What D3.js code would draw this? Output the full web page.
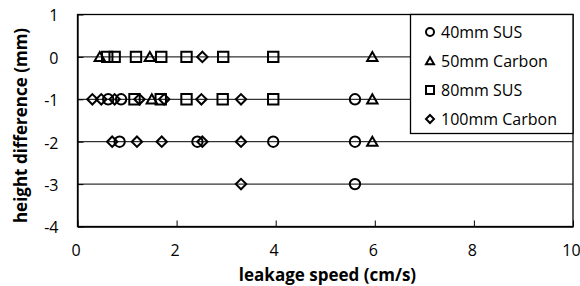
<!DOCTYPE html>
<html>
<head>
<meta charset="utf-8">
<script src="https://cdn.jsdelivr.net/npm/d3@7"></script>
<style>
  body { margin: 0; background: #fff; }
  text { font-family: "Open Sans", "DejaVu Sans", sans-serif; fill: #000; }
</style>
</head>
<body>
<svg width="580" height="286"></svg>
<script>
"use strict";

// series: leakage speed (cm/s) vs height difference (mm)
const seriesNames = ["40mm SUS", "50mm Carbon", "80mm SUS", "100mm Carbon"];
const seriesShapes = ["circle", "triangle", "square", "diamond"];

const sus40 = [
    {x: 0.62, y: -1}, {x: 0.88, y: -1}, {x: 5.6, y: -1},
    {x: 0.85, y: -2}, {x: 2.42, y: -2}, {x: 3.95, y: -2}, {x: 5.6, y: -2},
    {x: 5.6, y: -3}
];
const carbon50 = [
    {x: 0.45, y: 0}, {x: 1.46, y: 0}, {x: 5.95, y: 0},
    {x: 1.5, y: -1}, {x: 5.95, y: -1},
    {x: 5.95, y: -2}
];
const sus80 = [
    {x: 0.6, y: 0}, {x: 0.75, y: 0}, {x: 1.18, y: 0}, {x: 1.69, y: 0}, {x: 2.2, y: 0}, {x: 2.94, y: 0}, {x: 3.95, y: 0},
    {x: 1.15, y: -1}, {x: 1.68, y: -1}, {x: 2.2, y: -1}, {x: 2.93, y: -1}, {x: 3.95, y: -1}
];
const carbon100 = [
    {x: 2.52, y: 0},
    {x: 0.3, y: -1}, {x: 0.48, y: -1}, {x: 0.75, y: -1}, {x: 1.25, y: -1}, {x: 1.75, y: -1}, {x: 2.5, y: -1}, {x: 3.3, y: -1},
    {x: 0.7, y: -2}, {x: 1.2, y: -2}, {x: 1.7, y: -2}, {x: 2.52, y: -2}, {x: 3.3, y: -2},
    {x: 3.3, y: -3}
];
const allSeries = [sus40, carbon50, sus80, carbon100];

const xTicks = [0, 2, 4, 6, 8, 10];
const yTicks = [1, 0, -1, -2, -3, -4];

window.addEventListener("load", drawChart);

function markerPath(shape, r) {
    // r is roughly half the marker width
    const p = d3.path();
    if (shape === "circle") {
        p.arc(0, 0, r, 0, 2 * Math.PI);
    } else if (shape === "square") {
        p.rect(-r, -r, 2 * r, 2 * r);
    } else if (shape === "diamond") {
        p.moveTo(0, -r); p.lineTo(r, 0); p.lineTo(0, r); p.lineTo(-r, 0); p.closePath();
    } else {
        p.moveTo(0, -r * 0.95); p.lineTo(r, r * 0.8); p.lineTo(-r, r * 0.8); p.closePath();
    }
    return p.toString();
}

function drawChart() {
    const svg = d3.select("svg");
    const Padding = {TOP: 14.5, LEFT: 77.5, RIGHT: 7, BOTTOM: 59.5};
    const width = +svg.attr("width"), height = +svg.attr("height");

    const x = d3.scaleLinear().domain([0, 10]).range([Padding.LEFT, width - Padding.RIGHT]);
    const y = d3.scaleLinear().domain([-4, 1]).range([height - Padding.BOTTOM, Padding.TOP]);

    // horizontal gridlines
    svg.append("g")
        .selectAll("line")
        .data(yTicks.filter(d => d !== 1 && d !== -4))
        .join("line")
        .attr("x1", x(0)).attr("x2", x(10))
        .attr("y1", d => y(d)).attr("y2", d => y(d))
        .attr("stroke", "#000").attr("stroke-width", 1);

    // axes with inward ticks, plain hyphen for negatives
    const xAxis = svg.append("g")
        .attr("transform", `translate(0, ${y(-4)})`)
        .call(d3.axisBottom(x).tickValues(xTicks).tickFormat(d => String(d))
            .tickSizeInner(-6).tickSizeOuter(0).tickPadding(18));
    const yAxis = svg.append("g")
        .attr("transform", `translate(${x(0)}, 0)`)
        .call(d3.axisLeft(y).tickValues(yTicks).tickFormat(d => String(d))
            .tickSizeInner(-6).tickSizeOuter(0).tickPadding(19));
    [xAxis, yAxis].forEach(a => {
        a.select(".domain").attr("stroke", "#000").attr("stroke-width", 1.3);
        a.selectAll(".tick line").attr("stroke", "#000");
        a.selectAll("text").attr("font-size", 16).attr("font-family", null);
    });
    xAxis.selectAll("text").attr("dx", -2);
    yAxis.selectAll("text").attr("dy", "0.4em");

    // plot frame
    svg.append("rect")
        .attr("x", x(0)).attr("y", y(1))
        .attr("width", x(10) - x(0)).attr("height", y(-4) - y(1))
        .attr("fill", "none").attr("stroke", "#000").attr("stroke-width", 1.3);

    // markers
    allSeries.forEach((data, i) => {
        svg.append("g")
            .selectAll("path")
            .data(data)
            .join("path")
            .attr("transform", d => `translate(${x(d.x)}, ${y(d.y)})`)
            .attr("d", markerPath(seriesShapes[i], 5.2))
            .attr("fill", "none")
            .attr("stroke", "#000")
            .attr("stroke-width", 2);
    });

    // legend
    const legend = svg.append("g");
    legend.append("rect")
        .attr("x", 410.5).attr("y", y(1))
        .attr("width", x(10) - 410.5).attr("height", 133.5 - y(1))
        .attr("fill", "#fff").attr("stroke", "#000").attr("stroke-width", 1.3);
    seriesNames.forEach((name, i) => {
        const ly = 32 + i * 29;
        legend.append("path")
            .attr("transform", `translate(430, ${ly})`)
            .attr("d", markerPath(seriesShapes[i], 4))
            .attr("fill", "none").attr("stroke", "#000").attr("stroke-width", 2);
        legend.append("text")
            .attr("x", 441).attr("y", ly)
            .attr("dy", "0.36em")
            .attr("font-size", 16)
            .text(name);
    });

    // axis titles
    svg.append("text")
        .attr("font-size", 17)
        .attr("font-weight", "bold")
        .attr("text-anchor", "middle")
        .attr("transform", `translate(${(237 + 418) / 2}, 280.5)`)
        .text("leakage speed (cm/s)");
    svg.append("text")
        .attr("font-size", 17)
        .attr("font-weight", "bold")
        .attr("text-anchor", "middle")
        .attr("transform", `translate(27, ${(y(1) + y(-4)) / 2 + 5}) rotate(-90)`)
        .text("height difference (mm)");
}
</script>
</body>
</html>
